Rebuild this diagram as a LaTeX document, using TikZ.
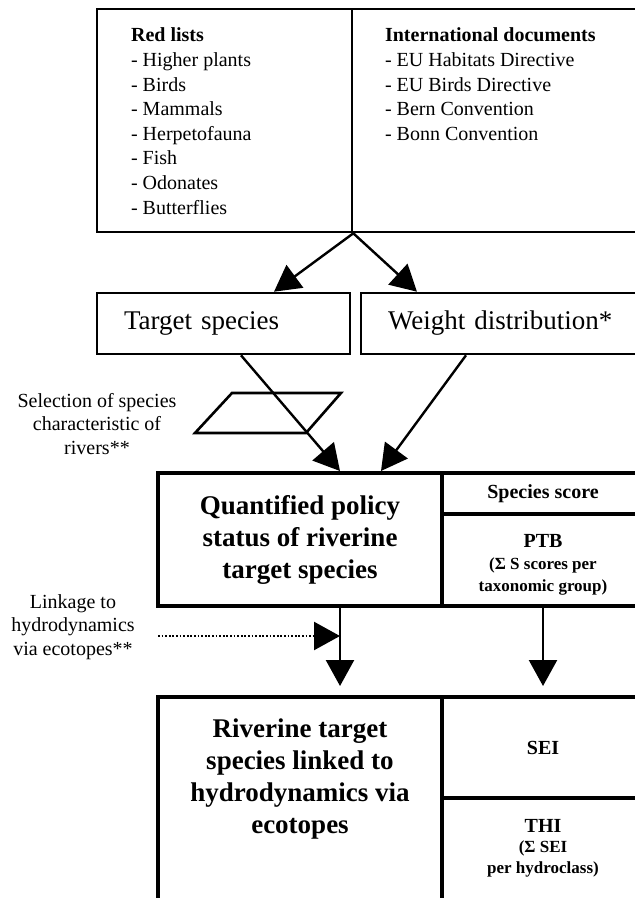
\documentclass[tikz,border=0pt]{standalone}
\usepackage{fontspec}
\setmainfont{Liberation Serif}
\usetikzlibrary{arrows.meta,calc}

\begin{document}
\begin{tikzpicture}[x=0.5pt,y=-0.5pt,font=\fontsize{10}{11.75}\selectfont]
        \tikzset{box/.style={draw=black, line width=1.3pt, inner sep=0pt},
                 heavy box/.style={box, line width=2pt},
                 flow/.style={line width=1.2pt, -{Triangle[length=13pt,width=14pt]}},
                 dot flow/.style={flow, dash pattern=on 0.9pt off 0.9pt},
                 big text/.style={font=\fontsize{13.5}{16}\selectfont\bfseries, align=center},
                 sub text/.style={align=center, font=\fontsize{8.5}{#1}\selectfont\bfseries}}

        \useasboundingbox (0,0) rectangle (635,898);
        \clip (0,0) rectangle (635,898);

        % sources
        \node[box, minimum width=127.5pt, minimum height=111.5pt] (redlists) at (224.5,120.5) {};
        \node[box, minimum width=146pt, minimum height=111.5pt] (intdocs) at (498,120.5) {};

        \node[anchor=base west, font=\bfseries] (redhead) at (124,42) {Red lists};
        \foreach \group [count=\i] in {Higher plants, Birds, Mammals, Herpetofauna,
                                       Fish, Odonates, Butterflies}
            \node[anchor=base west] (red\i) at (124,{42+24.6*\i}) {- \group};

        \node[anchor=base west, font=\bfseries] (inthead) at (378,42) {International documents};
        \foreach \doc [count=\i] in {EU Habitats Directive, EU Birds Directive,
                                     Bern Convention, Bonn Convention}
            \node[anchor=base west] (int\i) at (378,{42+24.6*\i}) {- \doc};

        % second row
        \node[box, minimum width=126.5pt, minimum height=30.5pt, inner xsep=13.5pt,
              text width=99.5pt, align=left, font=\fontsize{13.5}{16}\selectfont]
            (target) at (223.5,323.5) {Target species};
        \node[box, minimum width=141.5pt, minimum height=30.5pt, inner xsep=13.5pt,
              text width=114.5pt, align=left, font=\fontsize{13.5}{16}\selectfont]
            (weight) at (502.5,323.5) {Weight distribution*};

        \draw[box] (232,393) -- (341,393) -- (306,433) -- (195,433) -- cycle;
        \node[align=center] (selection) at (97,424) {Selection of species\\characteristic of\\rivers**};

        % policy status
        \node[heavy box, minimum width=142pt, minimum height=66.5pt, big text]
            (policy) at (300,539.5) {Quantified policy\\status of riverine\\target species};
        \node[heavy box, minimum width=101pt, minimum height=20.5pt, font=\bfseries]
            (score) at (543,493.5) {Species score};
        \node[heavy box, minimum width=101pt, minimum height=46pt] (ptb) at (543,560) {};
        \node[sub text=11] (ptbtext) at (543,565)
            {{\fontsize{10}{11}\selectfont PTB}\\(Σ S scores per\\taxonomic group)};

        % hydrodynamics
        \node[heavy box, minimum width=142pt, minimum height=116.5pt] (riverine) at (300,813.5) {};
        \node[big text] (rivertext) at (300,779)
            {Riverine target\\species linked to\\hydrodynamics via\\ecotopes};
        \node[heavy box, minimum width=101pt, minimum height=50.5pt, font=\bfseries]
            (sei) at (543,747.5) {SEI};
        \node[heavy box, minimum width=101pt, minimum height=66pt] (thi) at (543,864) {};
        \node[sub text=10.25] (thitext) at (543,848)
            {{\fontsize{10}{10.25}\selectfont THI}\\(Σ SEI\\per hydroclass)};

        \node[align=center] (linkage) at (73,627) {Linkage to\\hydrodynamics\\via ecotopes**};
        \coordinate (linkstart) at (158,636);
        \coordinate (drop) at ([xshift=20pt]policy.south);

        % arrows
        \draw[flow] (redlists.south east) -- ([xshift=25.25pt]target.north);
        \draw[flow] (redlists.south east) -- ([xshift=-42.75pt]weight.north);
        \draw[flow] ([xshift=8.75pt]target.south) -- ([xshift=20pt]policy.north);
        \draw[flow] ([xshift=-18.25pt]weight.south) -- ([xshift=40.5pt]policy.north);
        \draw[flow] (drop) -- ($(drop |- riverine.north)+(0,-9)$);
        \draw[flow] (ptb.south) -- ($(sei.north)+(0,-9)$);
        \draw[dot flow] (linkstart) -- (linkstart -| drop);
    \end{tikzpicture}
\end{document}
